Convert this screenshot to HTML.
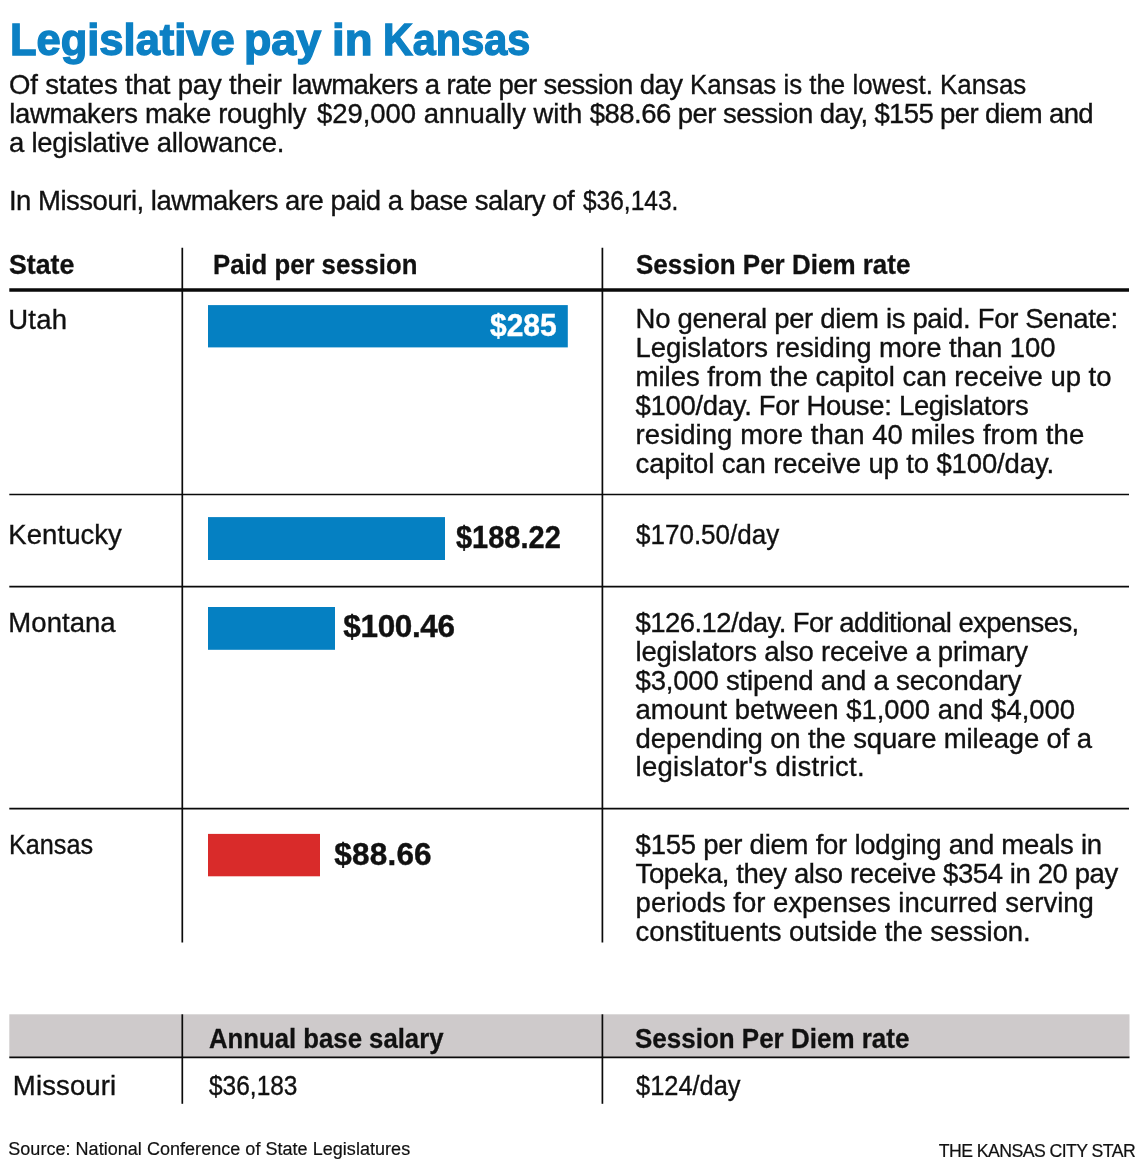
<!DOCTYPE html>
<html lang="en">
<head>
<meta charset="utf-8">
<title>Legislative pay in Kansas</title>
<style>
html,body{margin:0;padding:0;background:#fff}
h1,p{margin:0;padding:0;font-size:0;line-height:0}
body{width:1140px;height:1175px;position:relative;overflow:hidden;font-family:"Liberation Sans", Arial, sans-serif;color:#111111}
.t{position:absolute;margin:0;padding:0;white-space:nowrap;font-weight:400;font-kerning:normal}
.w{position:absolute;left:0;top:0;width:1140px;height:1175px;will-change:transform}
svg{position:absolute;left:0;top:0}
</style>
</head>
<body>
<svg width="1140" height="1175" viewBox="0 0 1140 1175">
<rect x="9.3" y="1014.3" width="1120.2" height="43" fill="#cecacb"/>
<rect x="208" y="305.1" width="359.8" height="42.3" fill="#0580c2"/>
<rect x="208" y="517.1" width="237" height="42.9" fill="#0580c2"/>
<rect x="208" y="607" width="127" height="42.8" fill="#0580c2"/>
<rect x="208" y="833.9" width="112" height="42.4" fill="#d92b2a"/>
<line x1="9.3" y1="290" x2="1129" y2="290" stroke="#0a0a0a" stroke-width="3.4"/>
<line x1="9.3" y1="494.5" x2="1129" y2="494.5" stroke="#0a0a0a" stroke-width="1.7"/>
<line x1="9.3" y1="586.6" x2="1129" y2="586.6" stroke="#0a0a0a" stroke-width="1.7"/>
<line x1="9.3" y1="808.6" x2="1129" y2="808.6" stroke="#0a0a0a" stroke-width="1.7"/>
<line x1="182.3" y1="247.8" x2="182.3" y2="942.4" stroke="#0a0a0a" stroke-width="1.7"/>
<line x1="602.4" y1="247.8" x2="602.4" y2="942.4" stroke="#0a0a0a" stroke-width="1.7"/>
<line x1="9.3" y1="1057.3" x2="1129.5" y2="1057.3" stroke="#0a0a0a" stroke-width="1.7"/>
<line x1="182.3" y1="1014.3" x2="182.3" y2="1103.8" stroke="#0a0a0a" stroke-width="1.7"/>
<line x1="602.4" y1="1014.3" x2="602.4" y2="1103.8" stroke="#0a0a0a" stroke-width="1.7"/>
</svg>
<main class="w">
<h1>
<span class="t" style="left:9.76px;top:14px;font-size:45.2px;line-height:51px;letter-spacing:0.000px;font-weight:700;color:#0c80c4;transform:scaleX(0.9621);transform-origin:0 0;-webkit-text-stroke:1.4px #0c80c4">Legislative</span>
<span class="t" style="left:243.68px;top:14px;font-size:45.2px;line-height:51px;letter-spacing:0.000px;font-weight:700;color:#0c80c4;transform:scaleX(0.9912);transform-origin:0 0;-webkit-text-stroke:1.4px #0c80c4">pay</span>
<span class="t" style="left:331.72px;top:14px;font-size:45.2px;line-height:51px;letter-spacing:0.000px;font-weight:700;color:#0c80c4;transform:scaleX(1.0074);transform-origin:0 0;-webkit-text-stroke:1.4px #0c80c4">in</span>
<span class="t" style="left:382.87px;top:14px;font-size:45.2px;line-height:51px;letter-spacing:0.000px;font-weight:700;color:#0c80c4;transform:scaleX(0.9153);transform-origin:0 0;-webkit-text-stroke:1.4px #0c80c4">Kansas</span>
</h1>
<p>
<span class="t" style="left:8.97px;top:69px;font-size:27.5px;line-height:31px;letter-spacing:-0.163px;-webkit-text-stroke:0.35px #111111">Of states that pay their</span>
<span class="t" style="left:291.71px;top:69px;font-size:27.5px;line-height:31px;letter-spacing:-0.595px;-webkit-text-stroke:0.35px #111111">lawmakers a rate per session day</span>
<span class="t" style="left:690.49px;top:69px;font-size:27.5px;line-height:31px;letter-spacing:0.000px;transform:scaleX(0.9401);transform-origin:0 0;-webkit-text-stroke:0.35px #111111">Kansas is the lowest. Kansas</span>
</p>
<p>
<span class="t" style="left:9.21px;top:98px;font-size:27.5px;line-height:31px;letter-spacing:-0.328px;-webkit-text-stroke:0.35px #111111">lawmakers make roughly</span>
<span class="t" style="left:316.95px;top:98px;font-size:27.5px;line-height:31px;letter-spacing:-0.034px;-webkit-text-stroke:0.35px #111111">$29,000 annually with</span>
<span class="t" style="left:589.75px;top:98px;font-size:27.5px;line-height:31px;letter-spacing:-0.527px;-webkit-text-stroke:0.35px #111111">$88.66 per session day,</span>
<span class="t" style="left:874.45px;top:98px;font-size:27.5px;line-height:31px;letter-spacing:-0.634px;-webkit-text-stroke:0.35px #111111">$155 per diem and</span>
</p>
<p>
<span class="t" style="left:9.04px;top:127px;font-size:27.5px;line-height:31px;letter-spacing:-0.259px;-webkit-text-stroke:0.35px #111111">a legislative allowance.</span>
</p>
<p>
<span class="t" style="left:8.88px;top:185px;font-size:27.5px;line-height:31px;letter-spacing:-0.480px;-webkit-text-stroke:0.35px #111111">In Missouri, lawmakers are paid a base salary of</span>
<span class="t" style="left:582.68px;top:185px;font-size:27.5px;line-height:31px;letter-spacing:0.000px;transform:scaleX(0.8906);transform-origin:0 0;-webkit-text-stroke:0.35px #111111">$36,143.</span>
</p>
<div class="t" style="left:9.03px;top:249px;font-size:27.5px;line-height:31px;letter-spacing:0.000px;font-weight:700;transform:scaleX(0.9717);transform-origin:0 0;-webkit-text-stroke:0.3px #111111">State</div>
<div class="t" style="left:213.21px;top:249px;font-size:27.5px;line-height:31px;letter-spacing:0.000px;font-weight:700;transform:scaleX(0.9349);transform-origin:0 0;-webkit-text-stroke:0.3px #111111">Paid per session</div>
<div class="t" style="left:636.26px;top:249px;font-size:27.5px;line-height:31px;letter-spacing:0.000px;font-weight:700;transform:scaleX(0.9447);transform-origin:0 0;-webkit-text-stroke:0.3px #111111">Session Per Diem rate</div>
<div class="t" style="left:8.22px;top:304px;font-size:27.5px;line-height:31px;letter-spacing:0.250px;-webkit-text-stroke:0.35px #111111">Utah</div>
<div class="t" style="left:490.19px;top:307px;font-size:31.5px;line-height:36px;letter-spacing:0.000px;font-weight:700;color:#ffffff;transform:scaleX(0.9509);transform-origin:0 0;-webkit-text-stroke:0.4px #ffffff">$285</div>
<div class="t" style="left:635.60px;top:303px;font-size:27.5px;line-height:31px;letter-spacing:-0.326px;-webkit-text-stroke:0.35px #111111">No general per diem is paid. For Senate:</div>
<div class="t" style="left:635.60px;top:332px;font-size:27.5px;line-height:31px;letter-spacing:-0.057px;-webkit-text-stroke:0.35px #111111">Legislators residing more than 100</div>
<div class="t" style="left:635.60px;top:361px;font-size:27.5px;line-height:31px;letter-spacing:-0.026px;-webkit-text-stroke:0.35px #111111">miles from the capitol can receive up to</div>
<div class="t" style="left:635.60px;top:390px;font-size:27.5px;line-height:31px;letter-spacing:-0.321px;-webkit-text-stroke:0.35px #111111">$100/day. For House: Legislators</div>
<div class="t" style="left:635.60px;top:419px;font-size:27.5px;line-height:31px;letter-spacing:0.066px;-webkit-text-stroke:0.35px #111111">residing more than 40 miles from the</div>
<div class="t" style="left:635.60px;top:448px;font-size:27.5px;line-height:31px;letter-spacing:-0.130px;-webkit-text-stroke:0.35px #111111">capitol can receive up to $100/day.</div>
<div class="t" style="left:8.36px;top:519px;font-size:27.5px;line-height:31px;letter-spacing:0.053px;-webkit-text-stroke:0.35px #111111">Kentucky</div>
<div class="t" style="left:456.30px;top:519px;font-size:31.5px;line-height:36px;letter-spacing:0.000px;font-weight:700;transform:scaleX(0.9200);transform-origin:0 0;-webkit-text-stroke:0.4px #111111">$188.22</div>
<div class="t" style="left:635.61px;top:519px;font-size:27.5px;line-height:31px;letter-spacing:0.000px;transform:scaleX(0.9462);transform-origin:0 0;-webkit-text-stroke:0.35px #111111">$170.50/day</div>
<div class="t" style="left:8.36px;top:607px;font-size:27.5px;line-height:31px;letter-spacing:0.037px;-webkit-text-stroke:0.35px #111111">Montana</div>
<div class="t" style="left:343.37px;top:608px;font-size:31.5px;line-height:36px;letter-spacing:-0.367px;font-weight:700;-webkit-text-stroke:0.4px #111111">$100.46</div>
<div class="t" style="left:635.60px;top:607px;font-size:27.5px;line-height:31px;letter-spacing:-0.573px;-webkit-text-stroke:0.35px #111111">$126.12/day. For additional expenses,</div>
<div class="t" style="left:635.60px;top:636px;font-size:27.5px;line-height:31px;letter-spacing:-0.241px;-webkit-text-stroke:0.35px #111111">legislators also receive a primary</div>
<div class="t" style="left:635.60px;top:665px;font-size:27.5px;line-height:31px;letter-spacing:-0.191px;-webkit-text-stroke:0.35px #111111">$3,000 stipend and a secondary</div>
<div class="t" style="left:635.60px;top:694px;font-size:27.5px;line-height:31px;letter-spacing:-0.028px;-webkit-text-stroke:0.35px #111111">amount between $1,000 and $4,000</div>
<div class="t" style="left:635.60px;top:723px;font-size:27.5px;line-height:31px;letter-spacing:-0.153px;-webkit-text-stroke:0.35px #111111">depending on the square mileage of a</div>
<div class="t" style="left:635.60px;top:751px;font-size:27.5px;line-height:31px;letter-spacing:0.247px;-webkit-text-stroke:0.35px #111111">legislator's district.</div>
<div class="t" style="left:8.54px;top:829px;font-size:27.5px;line-height:31px;letter-spacing:0.000px;transform:scaleX(0.9171);transform-origin:0 0;-webkit-text-stroke:0.35px #111111">Kansas</div>
<div class="t" style="left:334.37px;top:836px;font-size:31.5px;line-height:36px;letter-spacing:0.186px;font-weight:700;-webkit-text-stroke:0.4px #111111">$88.66</div>
<div class="t" style="left:635.60px;top:829px;font-size:27.5px;line-height:31px;letter-spacing:-0.242px;-webkit-text-stroke:0.35px #111111">$155 per diem for lodging and meals in</div>
<div class="t" style="left:635.60px;top:858px;font-size:27.5px;line-height:31px;letter-spacing:-0.404px;-webkit-text-stroke:0.35px #111111">Topeka, they also receive $354 in 20 pay</div>
<div class="t" style="left:635.60px;top:887px;font-size:27.5px;line-height:31px;letter-spacing:-0.010px;-webkit-text-stroke:0.35px #111111">periods for expenses incurred serving</div>
<div class="t" style="left:635.60px;top:916px;font-size:27.5px;line-height:31px;letter-spacing:-0.073px;-webkit-text-stroke:0.35px #111111">constituents outside the session.</div>
<div class="t" style="left:208.76px;top:1023px;font-size:27.5px;line-height:31px;letter-spacing:0.000px;font-weight:700;transform:scaleX(0.9353);transform-origin:0 0;-webkit-text-stroke:0.3px #111111">Annual base salary</div>
<div class="t" style="left:635.46px;top:1023px;font-size:27.5px;line-height:31px;letter-spacing:0.000px;font-weight:700;transform:scaleX(0.9447);transform-origin:0 0;-webkit-text-stroke:0.3px #111111">Session Per Diem rate</div>
<div class="t" style="left:12.86px;top:1070px;font-size:27.5px;line-height:31px;letter-spacing:0.134px;-webkit-text-stroke:0.35px #111111">Missouri</div>
<div class="t" style="left:208.98px;top:1070px;font-size:27.5px;line-height:31px;letter-spacing:0.000px;transform:scaleX(0.8900);transform-origin:0 0;-webkit-text-stroke:0.35px #111111">$36,183</div>
<div class="t" style="left:635.62px;top:1070px;font-size:27.5px;line-height:31px;letter-spacing:0.000px;transform:scaleX(0.9239);transform-origin:0 0;-webkit-text-stroke:0.35px #111111">$124/day</div>
<div class="t" style="left:8.28px;top:1139px;font-size:18px;line-height:20px;letter-spacing:0.034px;-webkit-text-stroke:0.2px #111111">Source: National Conference of State Legislatures</div>
<div class="t" style="left:938.87px;top:1141px;font-size:17.7px;line-height:20px;letter-spacing:-0.574px;-webkit-text-stroke:0.2px #111111">THE KANSAS CITY STAR</div>
</main>
</body>
</html>
